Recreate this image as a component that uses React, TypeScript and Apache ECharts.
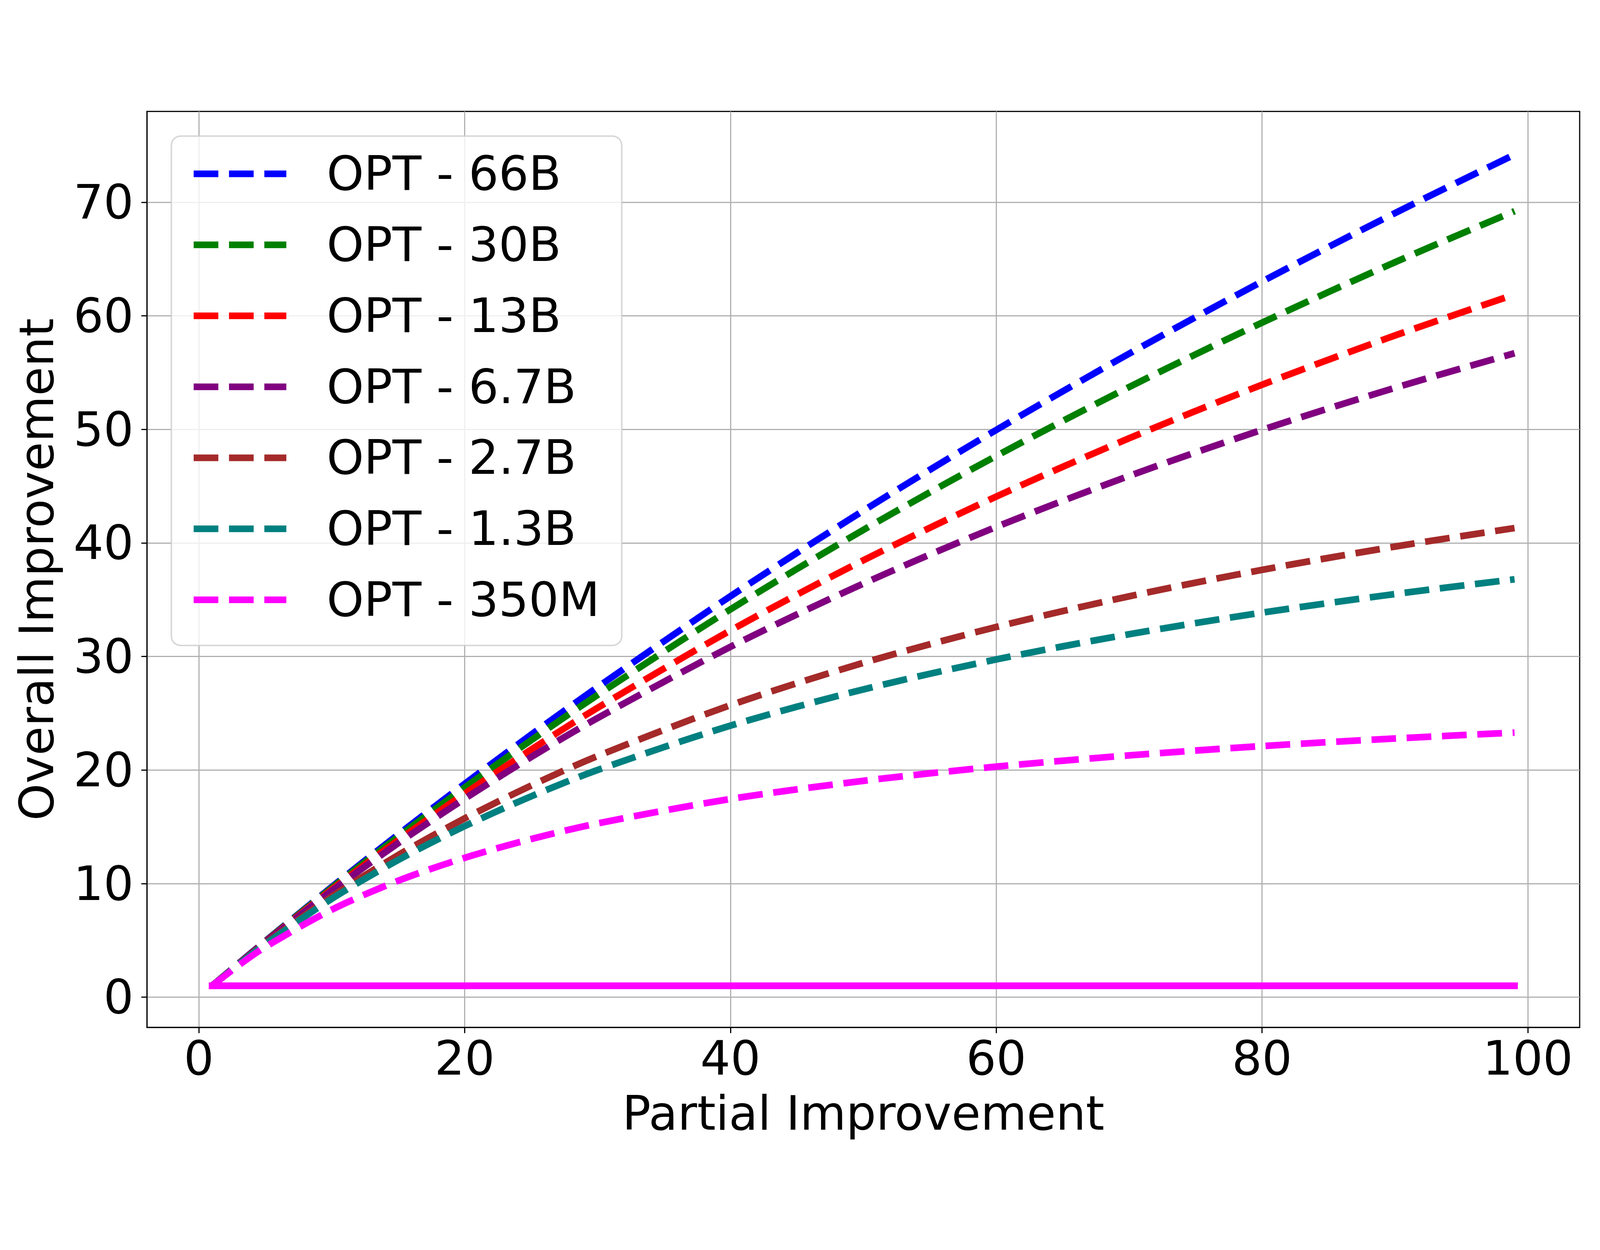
import React, { useEffect, useRef } from "react";
import * as echarts from "echarts";

// Partial improvement (x) at which the curves were read
const partial = [1, 3, 5, 10, 15, 20, 25, 30, 40, 50, 60, 70, 80, 90, 99];

// Overall improvement for each model
const opt66b = [1, 2.98, 4.93, 9.7, 14.32, 18.78, 23.11, 27.3, 35.31, 42.84, 49.95, 56.67, 63.02, 69.05, 74.2];
const opt30b = [1, 2.97, 4.91, 9.62, 14.13, 18.46, 22.62, 26.61, 34.15, 41.15, 47.66, 53.73, 59.4, 64.72, 69.22];
const opt13b = [1, 2.96, 4.88, 9.48, 13.82, 17.92, 21.8, 25.48, 32.29, 38.47, 44.08, 49.22, 53.93, 58.27, 61.88];
const opt6_7b = [1, 2.96, 4.85, 9.36, 13.56, 17.47, 21.14, 24.58, 30.85, 36.42, 41.41, 45.9, 49.96, 53.66, 56.71];
const opt2_7b = [1, 2.92, 4.73, 8.86, 12.51, 15.74, 18.63, 21.23, 25.71, 29.44, 32.6, 35.3, 37.63, 39.68, 41.31];
const opt1_3b = [1, 2.9, 4.68, 8.66, 12.08, 15.06, 17.68, 20.0, 23.91, 27.1, 29.74, 31.96, 33.86, 35.5, 36.8];
const opt350m = [1, 2.81, 4.42, 7.7, 10.25, 12.27, 13.92, 15.3, 17.45, 19.05, 20.3, 21.29, 22.11, 22.78, 23.3];

const seriesNames = ["OPT - 66B", "OPT - 30B", "OPT - 13B", "OPT - 6.7B", "OPT - 2.7B", "OPT - 1.3B", "OPT - 350M"];
const seriesValues = [opt66b, opt30b, opt13b, opt6_7b, opt2_7b, opt1_3b, opt350m];
const seriesColors = ["#0000ff", "#008000", "#ff0000", "#800080", "#a52a2a", "#008080", "#ff00ff"];

// Solid baseline
const baselineX = [1, 99];
const baselineY = [1, 1];

const xTicks = [0, 20, 40, 60, 80, 100];
const yTicks = [0, 10, 20, 30, 40, 50, 60, 70];

const FONT = "DejaVu Sans";
const FS = 142;
const W = 4800;
const H = 3200;

export default function App() {
  const ref = useRef<HTMLDivElement>(null);
  const vw = typeof window !== "undefined" ? window.innerWidth || W : W;
  const vh = typeof window !== "undefined" ? window.innerHeight || H : H;
  const scale = Math.min(1, vw / W, vh / H);
  const offY = Math.max(0, (vh - H * scale) / 2);

  useEffect(() => {
    document.body.style.margin = "0";
    document.body.style.background = "#ffffff";
    if (!ref.current) return;
    const chart = echarts.init(ref.current, null, { renderer: "svg", width: W, height: H });

    const dashed = seriesNames.map((name, i) => ({
      name,
      type: "line",
      data: partial.map((x, j) => [x, seriesValues[i][j]]),
      smooth: 0.3,
      symbol: "none",
      showSymbol: false,
      lineStyle: { color: seriesColors[i], width: 20, type: [74, 32], cap: "butt", join: "round" },
      itemStyle: { color: seriesColors[i] },
      emphasis: { disabled: true },
      z: 2,
    }));

    const option: any = {
      animation: false,
      backgroundColor: "#ffffff",
      textStyle: { fontFamily: FONT, color: "#000" },
      grid: {
        left: 441,
        top: 59,
        width: 4298,
        height: 2748,
        show: true,
        borderColor: "#000000",
        borderWidth: 3.5,
        backgroundColor: "transparent",
        containLabel: false,
        outerBoundsMode: "none",
      },
      xAxis: {
        type: "value",
        min: -3.9,
        max: 103.9,
        name: "Partial Improvement",
        nameLocation: "middle",
        nameGap: 187,
        nameTextStyle: { fontFamily: FONT, fontSize: FS, color: "#000" },
        axisLine: { show: true, onZero: false, lineStyle: { color: "#000", width: 3.5 } },
        axisTick: { show: true, inside: false, length: 17, customValues: xTicks, lineStyle: { color: "#000", width: 3.5 } },
        axisLabel: {
          customValues: xTicks,
          fontFamily: FONT,
          fontSize: FS,
          color: "#000",
          margin: 22,
          formatter: (v: number) => String(v),
        },
        splitLine: { show: true, lineStyle: { color: "#b0b0b0", width: 3.5 } },
      },
      yAxis: {
        type: "value",
        min: -2.67,
        max: 78.0,
        name: "Overall Improvement",
        nameLocation: "middle",
        nameGap: 259,
        nameTextStyle: { fontFamily: FONT, fontSize: FS, color: "#000" },
        axisLine: { show: true, onZero: false, lineStyle: { color: "#000", width: 3.5 } },
        axisTick: { show: true, inside: false, length: 17, customValues: yTicks, lineStyle: { color: "#000", width: 3.5 } },
        axisLabel: {
          customValues: yTicks,
          fontFamily: FONT,
          fontSize: FS,
          color: "#000",
          margin: 40,
          formatter: (v: number) => String(v),
        },
        splitLine: { show: true, lineStyle: { color: "#b0b0b0", width: 3.5 } },
      },
      legend: {
        data: seriesNames,
        orient: "vertical",
        left: 514,
        top: 133,
        padding: [42, 66, 66, 57],
        itemGap: 71,
        itemWidth: 278,
        itemHeight: 20,
        backgroundColor: "rgba(255,255,255,0.8)",
        borderColor: "rgba(204,204,204,0.8)",
        borderWidth: 4.4,
        borderRadius: 28,
        selectedMode: false,
        textStyle: { fontFamily: FONT, fontSize: FS, lineHeight: FS, color: "#000", padding: [0, 0, 0, 116] },
        itemStyle: { opacity: 0 },
        lineStyle: { width: 20 },
      },
      series: [
        ...dashed,
        {
          name: "baseline",
          type: "line",
          data: baselineX.map((x, j) => [x, baselineY[j]]),
          symbol: "none",
          showSymbol: false,
          lineStyle: { color: "#ff00ff", width: 20, type: "solid", cap: "square" },
          itemStyle: { color: "#ff00ff" },
          emphasis: { disabled: true },
          z: 3,
        },
      ],
    };

    chart.setOption(option);
    return () => chart.dispose();
  }, []);

  return (
    <div
      ref={ref}
      style={{
        position: "fixed",
        left: 0,
        top: offY,
        width: W + "px",
        height: H + "px",
        background: "#fff",
        transform: `scale(${scale})`,
        transformOrigin: "0 0",
      }}
    />
  );
}
